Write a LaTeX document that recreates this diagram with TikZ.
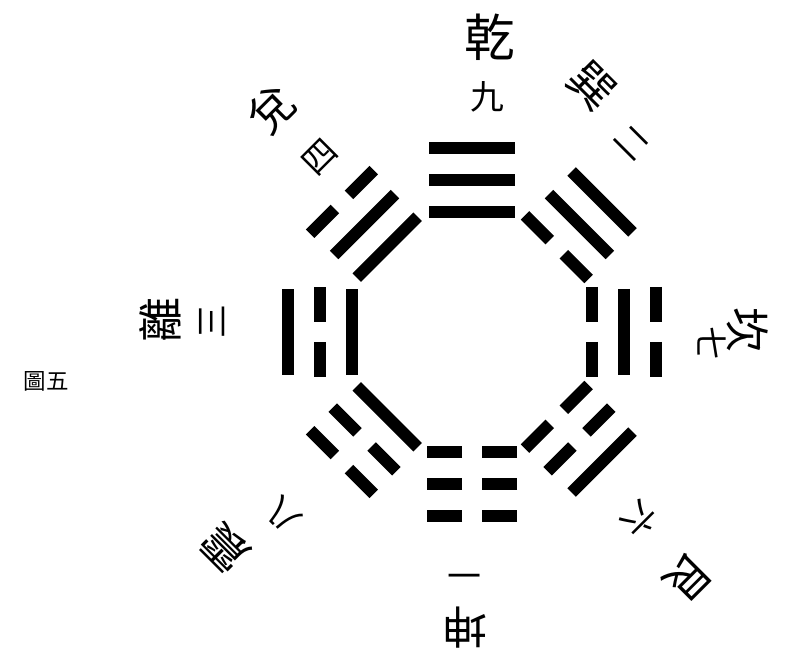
\documentclass[tikz,border=0pt]{standalone}
\usepackage{fontspec}
\newfontfamily\cjk{Noto Sans CJK TC}
\begin{document}
\begin{tikzpicture}[x=0.025cm,y=-0.025cm,
yao/.style={line width=0.3cm},
gua/.style={font=\cjk\fontsize{32}{32}\selectfont,inner sep=0pt},
num/.style={font=\cjk\fontsize{24}{24}\selectfont,inner sep=0pt}]
\useasboundingbox (0,0) rectangle (790,655);
% eight trigrams round the centre, inner line first
\foreach \k/\a/\b/\c in {0/1/1/1,1/0/1/1,2/0/1/0,3/0/0/1,4/0/0/0,5/1/0/0,6/1/0/1,7/1/1/0}{
  \begin{scope}[shift={(472,332)},rotate=-45*\k]
  \foreach \r/\t in {120/\a,152/\b,184/\c}{
    \ifnum\t=1 \draw[yao] (-43,-\r)--(43,-\r);
    \else \draw[yao] (-45,-\r)--(-10,-\r) (10,-\r)--(45,-\r); \fi}
  \end{scope}}
% names and numbers
\node[gua,font=\cjk\fontsize{36}{36}\selectfont] (qian) at (490,37) {乾};
\node[num] (qiann) at (487,97) {九};
\node[gua,rotate=-45] (xun) at (592,86) {巽};
\node[num,rotate=-45] (xunn) at (632,143) {二};
\node[gua,rotate=-90] (kan) at (748,330) {坎};
\node[num,rotate=-90] (kann) at (712,343) {七};
\node[gua,rotate=-135] (gen) at (688,578) {艮};
\node[num,rotate=-135] (genn) at (640,520) {六};
\node[gua,rotate=180] (kun) at (465,628) {坤};
\node[num,rotate=180] (kunn) at (465,570) {一};
\node[gua,rotate=135] (zhen) at (225,548) {震};
\node[num,rotate=135] (zhenn) at (283,515) {八};
\node[gua,rotate=90] (li) at (160,320) {離};
\node[num,rotate=90] (lin) at (212,322) {三};
\node[gua,rotate=45] (dui) at (272,110) {兌};
\node[num,rotate=45] (duin) at (320,157) {四};
\node[font=\cjk\fontsize{16}{16}\selectfont,inner sep=0pt] (fig) at (46,381) {圖五};
\end{tikzpicture}
\end{document}
